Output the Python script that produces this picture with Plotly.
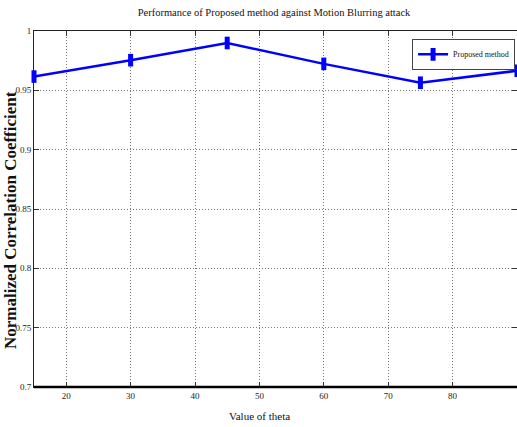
import plotly.graph_objects as go

theta = [15, 30, 45, 60, 75, 90]
ncc = [0.9616, 0.9754, 0.9899, 0.9723, 0.9564, 0.9665]
x_ticks = [20, 30, 40, 50, 60, 70, 80, 90]
y_ticks = [0.7, 0.75, 0.8, 0.85, 0.9, 0.95, 1]
y_tick_text = ["0.7", "0.75", "0.8", "0.85", "0.9", "0.95", "1"]

fig = go.Figure()
fig.add_trace(go.Scatter(
    x=theta, y=ncc, mode="lines+markers", name="Proposed method",
    line=dict(color="#0000ff", width=2.5),
    marker=dict(symbol="line-ns", size=9, line=dict(color="#0000ff", width=5)),
    cliponaxis=False,
))

tickfont = dict(family="Liberation Serif, serif", size=9, color="#222")
fig.update_layout(
    width=517, height=427,
    margin=dict(l=34, r=0, t=31, b=40, autoexpand=False),
    paper_bgcolor="white", plot_bgcolor="white",
    title=dict(text="Performance of Proposed method against Motion Blurring attack",
               x=0.53, xanchor="center", y=0.97, yanchor="middle",
               font=dict(family="Liberation Serif, serif", size=10.5, color="#111")),
    xaxis=dict(range=[15, 90], tickvals=x_ticks, ticks="inside", ticklen=5,
               tickcolor="#333", mirror="ticks", showline=True, linecolor="#222", linewidth=1,
               showgrid=True, gridcolor="#777", griddash="1px,2px", gridwidth=1,
               tickfont=tickfont, zeroline=False, automargin=False),
    yaxis=dict(range=[0.7, 1.0], tickvals=y_ticks, ticktext=y_tick_text, ticks="inside", ticklen=5,
               tickcolor="#333", mirror="ticks", showline=True, linecolor="#222", linewidth=1,
               showgrid=True, gridcolor="#777", griddash="1px,2px", gridwidth=1,
               tickfont=tickfont, zeroline=False, automargin=False),
    legend=dict(x=0.996, y=0.978, xanchor="right", yanchor="top",
                bgcolor="white", bordercolor="#444", borderwidth=1,
                font=dict(family="Liberation Serif, serif", size=8, color="#111"),
                itemwidth=30, tracegroupgap=0),
    showlegend=True,
)
fig.add_annotation(text="<b>Normalized Correlation Coefficient</b>", textangle=-90,
                   xref="paper", yref="paper", x=-0.049, y=0.47, showarrow=False,
                   xanchor="center", yanchor="middle",
                   font=dict(family="Liberation Serif, serif", size=17, color="#111"))
fig.add_annotation(text="Value of theta",
                   xref="paper", yref="paper", x=0.467, y=-0.081, showarrow=False,
                   xanchor="center", yanchor="middle",
                   font=dict(family="Liberation Serif, serif", size=11, color="#111"))
fig.add_shape(type="line", xref="paper", yref="paper", x0=0, x1=1, y0=0, y1=0,
              line=dict(color="#000", width=2.5))

fig.write_html("out.html", config={"displayModeBar": False},
               post_script="document.body.style.margin='0';")
